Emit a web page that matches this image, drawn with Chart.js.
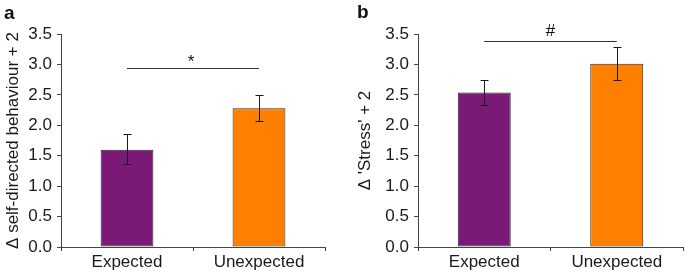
<!DOCTYPE html>
<html>
<head>
<meta charset="utf-8">
<script src="https://cdn.jsdelivr.net/npm/chart.js@4"></script>
<style>
  html, body { margin:0; padding:0; background:#fff; }
  body { width:685px; height:273px; position:relative; overflow:hidden; font-family:"Liberation Sans", Arial, sans-serif; }
  .panel { position:absolute; top:0; }
  .tag { position:absolute; font-weight:bold; font-size:19px; line-height:19px; color:#111; }
</style>
</head>
<body>
<div class="panel" style="left:0;width:340px;height:273px;"><canvas id="ca" width="340" height="273"></canvas></div>
<div class="panel" style="left:340px;width:345px;height:273px;"><canvas id="cb" width="345" height="273"></canvas></div>
<div class="tag" style="left:4px;top:3px;">a</div>
<div class="tag" style="left:357px;top:2px;">b</div>
<script>
// ---- data ----
const categories = ['Expected', 'Unexpected'];
const selfDirectedMeans = [1.60, 2.28];
const selfDirectedLower = [1.36, 2.07];
const selfDirectedUpper = [1.85, 2.50];
const stressMeans = [2.54, 3.01];
const stressLower = [2.34, 2.75];
const stressUpper = [2.75, 3.28];
const sigLevels = [2.94, 3.39];
const sigLabels = ['*', '#'];
const yTitles = ['\u0394 self-directed behaviour + 2', "\u0394 'Stress' + 2"];
const barColors = ['#7b1a76', '#ff8000'];

const FONT = '"Liberation Sans", Arial, sans-serif';

const annot = {
  id: 'annot',
  afterDatasetsDraw(chart, args, opts) {
    const { ctx, scales: { x, y } } = chart;
    ctx.save();
    ctx.strokeStyle = '#1a1a1a';
    ctx.lineWidth = 1;
    opts.lower.forEach((lo, i) => {
      const px = Math.round(x.getPixelForValue(i)) + 0.5;
      const yl = Math.round(y.getPixelForValue(lo)) + 0.5;
      const yh = Math.round(y.getPixelForValue(opts.upper[i])) + 0.5;
      ctx.beginPath();
      ctx.moveTo(px, yl); ctx.lineTo(px, yh);
      ctx.moveTo(px - 4, yl); ctx.lineTo(px + 4, yl);
      ctx.moveTo(px - 4, yh); ctx.lineTo(px + 4, yh);
      ctx.stroke();
    });
    const x0 = x.getPixelForValue(0), x1 = x.getPixelForValue(1);
    const sy = Math.round(y.getPixelForValue(opts.sigLevel)) + 0.5;
    ctx.strokeStyle = '#333';
    ctx.beginPath(); ctx.moveTo(x0, sy); ctx.lineTo(x1, sy); ctx.stroke();
    ctx.fillStyle = '#111';
    ctx.font = '17px ' + FONT;
    ctx.textAlign = 'center';
    ctx.textBaseline = 'alphabetic';
    ctx.fillText(opts.sigLabel, (x0 + x1) / 2 - opts.labelShift, sy - opts.labelGap);
    ctx.restore();
  }
};

function makeChart(id, means, lower, upper, sigLevel, sigLabel, yTitle, yWidth, titlePad, padRight, labelGap, labelShift) {
  return new Chart(document.getElementById(id), {
    type: 'bar',
    data: {
      labels: categories,
      datasets: [{
        data: means,
        backgroundColor: barColors,
        borderColor: '#2a2a2a',
        borderWidth: 1,
        borderSkipped: false,
        categoryPercentage: 1,
        barPercentage: 0.4
      }]
    },
    options: {
      responsive: false,
      animation: false,
      devicePixelRatio: 1,
      layout: { padding: { left: 0, right: padRight, top: 34, bottom: 0 } },
      plugins: {
        legend: { display: false },
        tooltip: { enabled: false },
        annot: { lower, upper, sigLevel, sigLabel, labelGap, labelShift }
      },
      scales: {
        x: {
          offset: true,
          grid: { offset: true, drawOnChartArea: false, drawTicks: true, tickLength: 4, color: '#444' },
          border: { color: '#444', width: 1 },
          ticks: { color: '#1a1a1a', font: { family: FONT, size: 17 }, padding: 1, maxRotation: 0 },
          afterFit(s) { s.height = 26; }
        },
        y: {
          min: 0, max: 3.5,
          grid: { drawOnChartArea: false, drawTicks: true, tickLength: 4, color: '#444' },
          border: { color: '#444', width: 1 },
          ticks: { stepSize: 0.5, color: '#1a1a1a', font: { family: FONT, size: 17 }, padding: 5,
                   callback: v => Number(v).toFixed(1) },
          title: { display: true, text: yTitle, color: '#1a1a1a', font: { family: FONT, size: 17 },
                   padding: { top: titlePad, bottom: 0 } },
          afterFit(s) { s.width = yWidth; }
        }
      }
    },
    plugins: [annot]
  });
}

makeChart('ca', selfDirectedMeans, selfDirectedLower, selfDirectedUpper, sigLevels[0], sigLabels[0], yTitles[0], 61, 3, 15, 2, 2);
makeChart('cb', stressMeans, stressLower, stressUpper, sigLevels[1], sigLabels[1], yTitles[1], 78, 15, 2, 6, 0);
</script>
</body>
</html>
